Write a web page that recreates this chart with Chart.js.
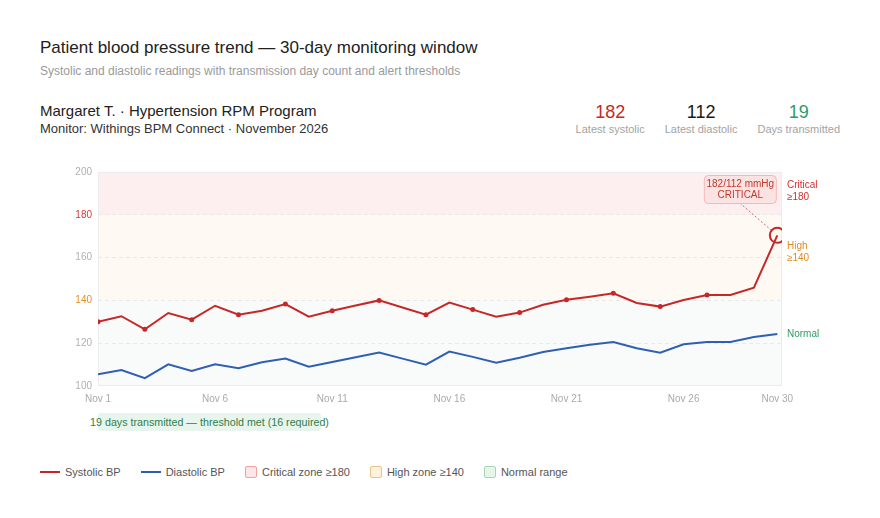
<!DOCTYPE html>
<html><head><meta charset="utf-8">
<script src="https://cdn.jsdelivr.net/npm/chart.js@4.4.1/dist/chart.umd.min.js"></script>
<style>
body{margin:0;background:#fff;font-family:"Liberation Sans",Arial,Helvetica,sans-serif;}
#wrap{position:relative;width:880px;height:518px;overflow:hidden;background:#fff;}
.abs{position:absolute;white-space:nowrap;}
#kpis{position:absolute;right:40px;top:101px;display:flex;gap:20px;}
.kpi{text-align:center;}
.kpi .v{font-size:18px;line-height:22px;}
.kpi .l{font-size:11px;line-height:13px;color:#a3a3a3;margin-top:0px;}
#legend{position:absolute;left:40px;top:465px;display:flex;gap:20px;font-size:11px;color:#555;line-height:14px;}
.li{display:flex;align-items:center;gap:5px;}
.ln{width:20px;height:2px;}
.bx{width:10px;height:10px;border-radius:2px;border:1px solid;}
#pill{position:absolute;left:98px;top:413px;width:223px;height:18px;background:#e8f5ec;border-radius:3px;}
#pilltxt{position:absolute;left:60px;width:299px;top:413px;height:18px;line-height:18px;text-align:center;font-size:10.7px;color:#2e7d4f;}
</style></head>
<body>
<div id="wrap">
  <div class="abs" style="left:40px;top:38px;font-size:17px;line-height:20px;color:#222">Patient blood pressure trend — 30-day monitoring window</div>
  <div class="abs" style="left:40px;top:64px;font-size:12px;line-height:14px;color:#9a9a9a">Systolic and diastolic readings with transmission day count and alert thresholds</div>
  <div class="abs" style="left:40px;top:102px;font-size:15px;line-height:18px;color:#222">Margaret T. · Hypertension RPM Program</div>
  <div class="abs" style="left:40px;top:121px;font-size:13px;line-height:16px;color:#333">Monitor: Withings BPM Connect · November 2026</div>
  <div id="kpis"></div>
  <canvas id="c" width="880" height="250" style="position:absolute;left:0;top:160px;width:880px;height:250px"></canvas>
  <div id="pill"></div>
  <div id="pilltxt"></div>
  <div id="legend"></div>
</div>
<script>
// ---- data ----
const days = [1,2,3,4,5,6,7,8,9,10,11,12,13,14,15,16,17,18,19,20,21,22,23,24,25,26,27,28,29,30];
const systolic = [130,132.6,126.5,134.1,131,137.5,133.3,135.2,138.3,132.4,135.2,137.6,140,136.7,133.3,139,135.7,132.4,134.3,138,140.3,141.7,143.3,138.8,137.1,140.2,142.5,142.5,145.9,170.4];
const diastolic = [105.5,107.5,103.7,110.1,107,110.1,108.3,111.1,112.8,109,111.2,113.4,115.6,112.8,110,116.1,113.6,110.9,113.2,115.9,117.6,119.3,120.6,117.6,115.6,119.5,120.6,120.6,122.9,124.3];
const markerDays = [1,3,5,7,9,11,13,15,17,19,21,23,25,27];
const xTickDays = [1,6,11,16,21,26,30];
const yTicks = [100,120,140,160,180,200];
const zoneLimits = [100,140,180,200];
const zoneNames = ['Normal','High','Critical'];
const latestSystolic = 182, latestDiastolic = 112, daysTransmitted = 19, daysRequired = 16;
const monthLabel = 'Nov';

// ---- header / footer text ----
const kpis = [[String(latestSystolic),'Latest systolic','#c62828'],[String(latestDiastolic),'Latest diastolic','#1a1a1a'],[String(daysTransmitted),'Days transmitted','#2a9d6a']];
document.getElementById('kpis').innerHTML = kpis.map(k=>`<div class="kpi"><div class="v" style="color:${k[2]}">${k[0]}</div><div class="l">${k[1]}</div></div>`).join('');
document.getElementById('pilltxt').textContent = `${daysTransmitted} days transmitted — threshold met (${daysRequired} required)`;
const legendItems = [
  ['line','#c62828','','Systolic BP'],
  ['line','#2f5fb3','','Diastolic BP'],
  ['box','#fde6e6','#eea3a3','Critical zone ≥180'],
  ['box','#fdf2de','#e8c387','High zone ≥140'],
  ['box','#e6f4ea','#a6d6b4','Normal range']
];
document.getElementById('legend').innerHTML = legendItems.map(it=> it[0]==='line'
  ? `<div class="li"><div class="ln" style="background:${it[1]}"></div><span>${it[3]}</span></div>`
  : `<div class="li"><div class="bx" style="background:${it[1]};border-color:${it[2]}"></div><span>${it[3]}</span></div>`).join('');

// ---- chart ----
const SYS = '#c62828', DIA = '#2f5fb3';
const zoneFill = ['#f9fbfb','#fefaf3','#fdeff0'];
const zoneText = ['#2e9e62','#e08a1e','#d32f2f'];

const zonesPlugin = {
  id:'zones',
  beforeDraw(chart){
    const {ctx, chartArea:a, scales:{y}} = chart;
    ctx.save();
    for(let i=0;i<3;i++){
      const t = y.getPixelForValue(zoneLimits[i+1]), b = y.getPixelForValue(zoneLimits[i]);
      ctx.fillStyle = zoneFill[i];
      ctx.fillRect(a.left, t, a.right-a.left, b-t);
    }
    ctx.restore();
  },
  beforeDatasetsDraw(chart){
    const {ctx, chartArea:a} = chart;
    ctx.save();
    ctx.strokeStyle = '#ececec'; ctx.lineWidth = 1;
    ctx.strokeRect(a.left+0.5, a.top+0.5, a.right-a.left-1, a.bottom-a.top-1);
    ctx.restore();
  },
  afterDatasetsDraw(chart){
    const {ctx, chartArea:a, scales:{y}} = chart;
    const meta = chart.getDatasetMeta(0);
    const pt = meta.data[meta.data.length-1];
    const px = pt.x, py = pt.y;
    const w = 72, h = 28, bx = px - 73.5, by = a.top + 3;
    ctx.save();
    const cx = bx + w/2, cy = by + h;
    const dx = px - cx, dy = py - cy, L = Math.hypot(dx,dy);
    ctx.strokeStyle = 'rgba(198,40,40,0.7)'; ctx.lineWidth = 1; ctx.setLineDash([2,2]);
    ctx.beginPath(); ctx.moveTo(cx, cy); ctx.lineTo(px - dx/L*8, py - dy/L*8); ctx.stroke();
    ctx.setLineDash([]);
    ctx.beginPath(); ctx.roundRect(bx+0.5, by+0.5, w, h, 4);
    ctx.fillStyle = 'rgba(252,226,226,0.92)'; ctx.fill();
    ctx.strokeStyle = '#f3b9b9'; ctx.stroke();
    ctx.fillStyle = '#c0392b'; ctx.font = '10px "Liberation Sans", Arial, sans-serif';
    ctx.textAlign = 'center'; ctx.textBaseline = 'middle';
    ctx.fillText(`${latestSystolic}/${latestDiastolic} mmHg`, bx + w/2 + 0.5, by + 9.5);
    ctx.fillText('CRITICAL', bx + w/2 + 0.5, by + 20.5);
    ctx.textAlign = 'left';
    const lx = a.right + 5;
    const cyC = y.getPixelForValue(191.2);
    ctx.fillStyle = zoneText[2];
    ctx.fillText(zoneNames[2], lx, cyC - 6); ctx.fillText('≥' + zoneLimits[2], lx, cyC + 6);
    const cyH = y.getPixelForValue(162.3);
    ctx.fillStyle = zoneText[1];
    ctx.fillText(zoneNames[1], lx, cyH - 6); ctx.fillText('≥' + zoneLimits[1], lx, cyH + 6);
    const lastD = chart.getDatasetMeta(1).data;
    ctx.fillStyle = zoneText[0];
    ctx.fillText(zoneNames[0], lx, lastD[lastD.length-1].y);
    ctx.restore();
  }
};

Chart.defaults.font.family = '"Liberation Sans", Arial, sans-serif';
const lastIdx = days.length - 1;
new Chart(document.getElementById('c'), {
  type:'line',
  data:{
    datasets:[
      {label:'Systolic BP', data: days.map((d,i)=>({x:d,y:systolic[i]})), borderColor:SYS, borderWidth:2, tension:0,
       pointRadius: days.map((d,i)=> i===lastIdx ? 7.5 : (markerDays.includes(d) ? 2.5 : 0)),
       pointBackgroundColor: days.map((d,i)=> i===lastIdx ? 'rgba(255,255,255,0)' : SYS),
       pointBorderColor: SYS,
       pointBorderWidth: days.map((d,i)=> i===lastIdx ? 2 : 0)},
      {label:'Diastolic BP', data: days.map((d,i)=>({x:d,y:diastolic[i]})), borderColor:DIA, borderWidth:2, tension:0, pointRadius:0}
    ]
  },
  options:{
    responsive:false, animation:false, devicePixelRatio:1, events:[],
    layout:{padding:{left:40,right:98,top:11,bottom:0}},
    plugins:{legend:{display:false}, tooltip:{enabled:false}},
    scales:{
      x:{type:'linear', min:1, max:30.2,
        afterFit(s){ s.height = 24; },
        afterBuildTicks(s){ s.ticks = xTickDays.map(v=>({value:v})); },
        ticks:{color:'#aaaaaa', font:{size:10}, padding:7, autoSkip:false, maxRotation:0, callback:v=> monthLabel + ' ' + v},
        grid:{display:false, drawTicks:false}, border:{display:false}},
      y:{min:100, max:200,
        afterFit(s){ s.width = 58; },
        afterBuildTicks(s){ s.ticks = yTicks.map(v=>({value:v})); },
        ticks:{font:{size:10}, padding:6,
          color: c => c.tick.value===180 ? '#d33b3b' : (c.tick.value===140 ? '#e0902a' : '#b0b0b0')},
        grid:{drawTicks:false, color: c => (c.tick.value===100||c.tick.value===200) ? 'rgba(0,0,0,0)' : '#e9e9e9'},
        border:{display:false, dash:[4,3]}}
    }
  },
  plugins:[zonesPlugin]
});
</script>
</body></html>
